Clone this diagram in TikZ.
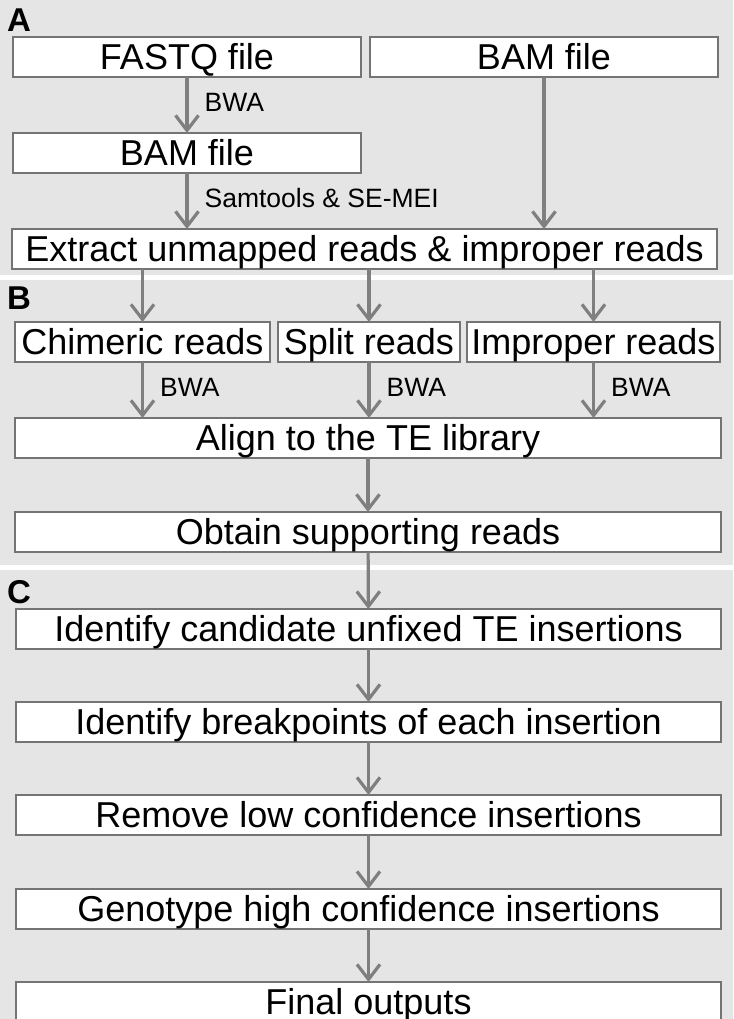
\documentclass[tikz,border=0pt]{standalone}
\usepackage{fontspec}
\setmainfont{Liberation Sans}
\usetikzlibrary{arrows.meta,positioning}
\definecolor{panelgray}{HTML}{E5E5E5}
\definecolor{edgegray}{HTML}{747474}
\definecolor{arrowgray}{HTML}{7F7F7F}

\begin{document}
\begin{tikzpicture}[x=1pt, y=-1pt, node distance=56pt and 9pt, font=\fontsize{36}{40}\selectfont,
  stepbox/.style={draw=edgegray, fill=white, line width=2.8pt, inner sep=0pt, outer sep=0pt, minimum height=40pt, text height=25.5pt, text depth=0pt},
  arr/.style={-{Straight Barb[length=15pt, width=23pt]}, line width=3.2pt, color=arrowgray},
  tool/.style={font=\fontsize{26.5}{30}\selectfont, text=black, text height=19pt, text depth=0pt, inner sep=0pt, midway, right=16pt, yshift=3pt},
  panel/.style={font=\fontsize{33}{36}\selectfont\bfseries, inner sep=0pt, anchor=base west}]
\useasboundingbox (0,0) rectangle (733,1019);
\clip (0,0) rectangle (733,1019);
\fill[panelgray] (0,0) rectangle (733,275);
\fill[panelgray] (0,280) rectangle (733,565);
\fill[panelgray] (0,570) rectangle (733,1019);
% A
\node[panel] (labA) at (7,32) {A};
\node[stepbox, minimum width=348pt, anchor=north west] (fastq) at (13,37) {FASTQ file};
\node[stepbox, minimum width=348pt, right=of fastq] (bamin) {BAM file};
\node[stepbox, minimum width=348pt, below=of fastq] (bam) {BAM file};
\node[stepbox, minimum width=705pt, anchor=north west] (extract) at (12,229) {Extract unmapped reads \& improper reads};
% B
\node[panel] (labB) at (7,309) {B};
\node[stepbox, minimum width=255pt, anchor=north west] (chim) at (15,322) {Chimeric reads};
\node[stepbox, minimum width=182pt, right=8pt of chim] (split) {Split reads};
\node[stepbox, minimum width=253pt, right=7pt of split] (improp) {Improper reads};
\node[stepbox, minimum width=706pt, below=56pt of chim.south west, anchor=north west] (align) {Align to the TE library};
\node[stepbox, minimum width=706pt, below=54pt of align] (support) {Obtain supporting reads};
% C
\node[panel] (labC) at (7,603) {C};
\node[stepbox, minimum width=705pt, anchor=north west] (cand) at (16,609) {Identify candidate unfixed TE insertions};
\node[stepbox, minimum width=705pt, below=53pt of cand] (brk) {Identify breakpoints of each insertion};
\node[stepbox, minimum width=705pt, below=53pt of brk] (lowconf) {Remove low confidence insertions};
\node[stepbox, minimum width=705pt, below=54pt of lowconf] (geno) {Genotype high confidence insertions};
\node[stepbox, minimum width=705pt, below=53pt of geno] (final) {Final outputs};
% connectors
\draw[arr] (fastq) -- (bam) node[tool] {BWA};
\draw[arr] (bam) -- (extract.north -| bam) node[tool] {Samtools \& SE-MEI};
\draw[arr] (bamin) -- (extract.north -| bamin);
\draw[arr] (extract.south -| chim) -- (chim);
\draw[arr] (extract.south -| split) -- (split);
\draw[arr] (extract.south -| improp) -- (improp);
\draw[arr] (chim) -- (align.north -| chim) node[tool] {BWA};
\draw[arr] (split) -- (align.north -| split) node[tool] {BWA};
\draw[arr] (improp) -- (align.north -| improp) node[tool] {BWA};
\draw[arr] (align) -- (support);
\draw[arr] (support) -- (cand);
\draw[arr] (cand) -- (brk);
\draw[arr] (brk) -- (lowconf);
\draw[arr] (lowconf) -- (geno);
\draw[arr] (geno) -- (final);
\end{tikzpicture}
\end{document}
